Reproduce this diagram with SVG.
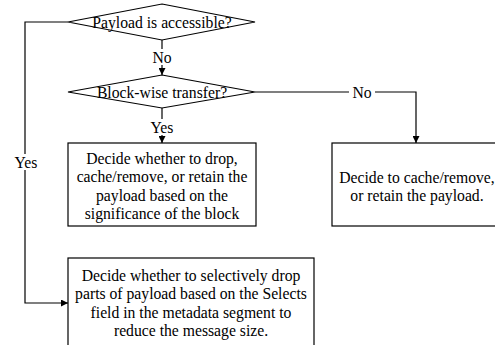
<svg xmlns="http://www.w3.org/2000/svg" width="495" height="345" viewBox="0 0 495 345" font-family="Liberation Serif, DejaVu Serif, serif" font-size="15.7">
<style>
.shape{fill:#fff;stroke:#000;stroke-width:1.2}
.line{fill:none;stroke:#000;stroke-width:1.2}
text{fill:#000;text-anchor:middle;dominant-baseline:central}
.lbl{fill:#fff;stroke:none}
</style>
<defs>
<marker id="arr" viewBox="0 0 10 10" refX="10" refY="5" markerWidth="7" markerHeight="7" markerUnits="userSpaceOnUse" orient="auto">
<path d="M0,0 L10,5 L0,10 z" fill="#000"/>
</marker>
</defs>
<rect width="495" height="345" fill="#fff"/>
<g id="connectors">
<path class="line" d="M162,40 V75" marker-end="url(#arr)"/>
<path class="line" d="M162,108 V143" marker-end="url(#arr)"/>
<path class="line" d="M255,92 H416 V143" marker-end="url(#arr)"/>
<path class="line" d="M68,22 H25 V303 H68" marker-end="url(#arr)"/>
<rect class="lbl" x="150" y="49" width="24" height="16"/>
<text x="162" y="57">No</text>
<rect class="lbl" x="147" y="119" width="30" height="16"/>
<text x="162" y="127">Yes</text>
<rect class="lbl" x="349" y="84" width="26" height="16"/>
<text x="362" y="92">No</text>
<rect class="lbl" x="11" y="154" width="30" height="16"/>
<text x="26" y="162">Yes</text>
</g>
<g id="d1">
<path class="shape" d="M162,4 L255,22 L162,40 L68,22 Z"/>
<text x="162" y="22">Payload is accessible?</text>
</g>
<g id="d2">
<path class="shape" d="M162,75 L255,92 L162,108 L68,92 Z"/>
<text x="162" y="92">Block-wise transfer?</text>
</g>
<g id="b1">
<rect class="shape" x="68" y="143" width="188" height="83"/>
<text x="162" y="158">Decide whether to drop,</text>
<text x="162" y="176.5">cache/remove, or retain the</text>
<text x="162" y="195">payload based on the</text>
<text x="162" y="213.5">significance of the block</text>
</g>
<g id="b2">
<rect class="shape" x="332" y="143" width="172" height="83"/>
<text x="417" y="177">Decide to cache/remove,</text>
<text x="417" y="195.5">or retain the payload.</text>
</g>
<g id="b3">
<rect class="shape" x="68" y="258" width="246" height="100"/>
<text x="191" y="275">Decide whether to selectively drop</text>
<text x="191" y="293.5">parts of payload based on the Selects</text>
<text x="191" y="312">field in the metadata segment to</text>
<text x="191" y="330.5">reduce the message size.</text>
</g>
</svg>
